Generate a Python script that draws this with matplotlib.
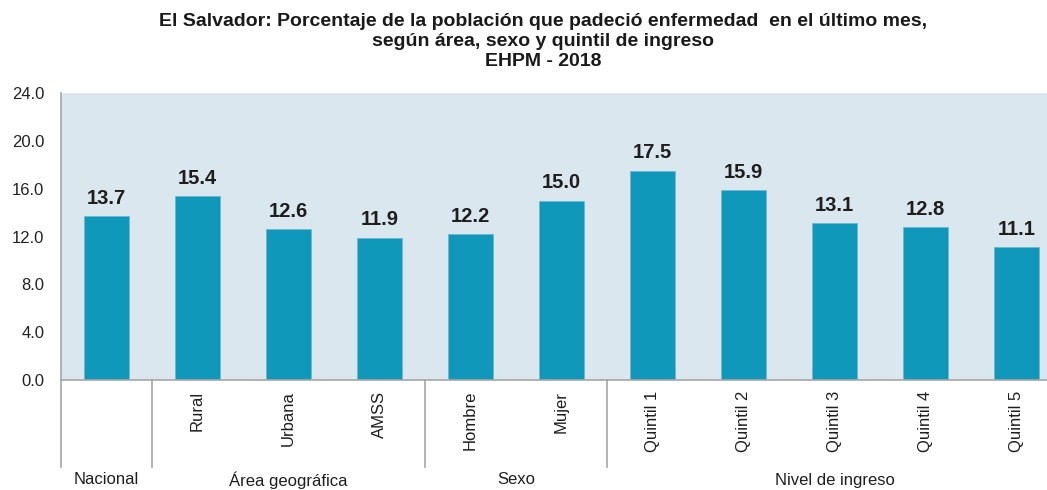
import numpy as np
import matplotlib
matplotlib.use("Agg")
from matplotlib import pyplot as plt
from matplotlib import transforms

plt.rcParams['font.family'] = ['Liberation Sans', 'DejaVu Sans']

categorias = ['', 'Rural', 'Urbana', 'AMSS', 'Hombre', 'Mujer',
              'Quintil 1', 'Quintil 2', 'Quintil 3', 'Quintil 4', 'Quintil 5']
valores = [13.7, 15.4, 12.6, 11.9, 12.2, 15.0, 17.5, 15.9, 13.1, 12.8, 11.1]
grupos = ['Nacional', 'Área geográfica', 'Sexo', 'Nivel de ingreso']
grupo_inicio = [0, 1, 4, 6]
grupo_fin = [0, 3, 5, 10]

bar_color = '#0F98BA'
bg_color = '#DAE7EF'
grid_grey = '#A6A6A6'

fig = plt.figure(figsize=(10.47, 4.9), dpi=100)
ax = fig.add_axes([61/1047, 1 - 380/490, 1001/1047, 287/490])
ax.set_facecolor(bg_color)

x = np.arange(len(valores))
ax.bar(x, valores, width=0.5, color=bar_color, edgecolor='#6BB8D0', linewidth=0.6, zorder=2)
for xi, v in zip(x, valores):
    ax.annotate(f'{v:.1f}', (xi, v), xytext=(0, 6), textcoords='offset points',
                ha='center', va='bottom', fontsize=14.5, fontweight='bold', color='#1e1e1e')

ax.set_xlim(-0.5, len(valores) - 0.5)
ax.set_ylim(0, 24)
ax.set_yticks(np.arange(0, 25, 4))
ax.set_yticklabels([f'{t:.1f}' for t in np.arange(0, 25, 4)], fontsize=12, color='#222222')
ax.tick_params(axis='y', length=0, pad=12)

ax.set_xticks(x)
ax.set_xticklabels(categorias, rotation=90, fontsize=12, color='#1e1e1e')
ax.tick_params(axis='x', length=0, pad=8)

for s in ['top', 'right']:
    ax.spines[s].set_visible(False)
ax.spines['left'].set_color(grid_grey)
ax.spines['bottom'].set_color(grid_grey)
ax.spines['left'].set_linewidth(1.2)
ax.spines['bottom'].set_linewidth(1.2)

trans = transforms.blended_transform_factory(ax.transData, ax.transAxes)
sep_bottom = -(467 - 380) / 287
for pos in [-0.5] + [f + 0.5 for f in grupo_fin[:-1]]:
    ax.plot([pos, pos], [0, sep_bottom], transform=trans, color=grid_grey,
            lw=1.2, clip_on=False)

label_y = -(480 - 380) / 287
for nombre, a, b in zip(grupos, grupo_inicio, grupo_fin):
    ax.text((a + b) / 2, label_y, nombre, transform=trans, ha='center', va='center',
            fontsize=12, color='#1e1e1e')

titulo = ['El Salvador: Porcentaje de la población que padeció enfermedad  en el último mes,',
          'según área, sexo y quintil de ingreso',
          'EHPM - 2018']
for i, linea in enumerate(titulo):
    fig.text(0.519, 1 - (22 + 20 * i) / 490, linea, ha='center', va='center',
             fontsize=14, fontweight='bold', color='#1a1a1a')

fig.savefig('out.png', dpi=100)
